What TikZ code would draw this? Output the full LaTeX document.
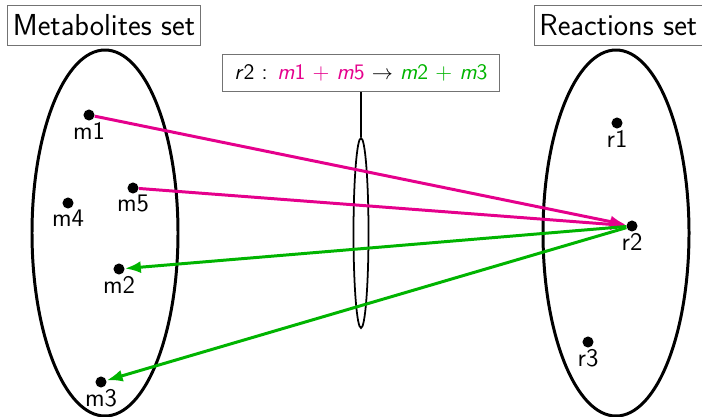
\documentclass[tikz,border=0pt]{standalone}
\usepackage{tikz}
\usetikzlibrary{positioning,arrows.meta,shapes.geometric}
\definecolor{mbMagenta}{HTML}{E5008C}
\definecolor{mbGreen}{HTML}{00B400}
\tikzset{
  setbox/.style={draw=black!55,line width=0.5pt,font=\sffamily\LARGE,
    inner sep=3pt,minimum height=0.8cm},
  pool/.style={draw=black,line width=1.7pt},
  elem/.style={circle,fill=black,inner sep=0pt,minimum size=6.3pt,
    label={[font=\sffamily\Large,inner sep=0.5pt]below:#1}},
  produce/.style={-{Latex[length=3.2mm,width=2.4mm]},line width=1.7pt,draw=mbMagenta},
  consume/.style={-{Latex[length=3.2mm,width=2.4mm]},line width=1.7pt,draw=mbGreen}
}
\begin{document}
\begin{tikzpicture}[x=0.02cm,y=-0.02cm]
  \useasboundingbox (0,0) rectangle (702,416);

  % the two sets
  \node[setbox] (mset) at (104,25) {Metabolites set};
  \node[setbox, anchor=east] (rset) at (703,25) {Reactions set};
  \draw[pool] (105,233) ellipse [x radius=73, y radius=183];
  \draw[pool] (616,233) ellipse [x radius=73, y radius=183];

  % metabolites
  \node[elem=m1] (m1) at (89,115) {};
  \node[elem=m5] (m5) at (133,188) {};
  \node[elem=m4] (m4) at (68,203) {};
  \node[elem=m2] (m2) at (119,269) {};
  \node[elem=m3] (m3) at (101,382) {};

  % reactions
  \node[elem=r1] (r1) at (617,123) {};
  \node[elem=r2] (r2) at (632,226) {};
  \node[elem=r3] (r3) at (588,342) {};

  % reaction r2 in the middle
  \node[draw=black!55,line width=0.5pt,font=\sffamily\fontsize{12.6}{15}\selectfont,
    inner xsep=7pt,inner ysep=6pt] (rule) at (361,73)
    {\textit{r}2 : {\color{mbMagenta}\textit{m}1 + \textit{m}5} $\rightarrow$ {\color{mbGreen}\textit{m}2 + \textit{m}3}};
  \node[ellipse,draw,line width=1pt,minimum width=0.3cm,minimum height=3.8cm,inner sep=0pt] (lens) at (361,233) {};
  \draw[line width=1pt] (rule) -- (lens);

  \draw[produce] (m1) -- (r2);
  \draw[produce] (m5) -- (r2);
  \draw[consume] (r2) -- (m2);
  \draw[consume] (r2) -- (m3);
\end{tikzpicture}
\end{document}
